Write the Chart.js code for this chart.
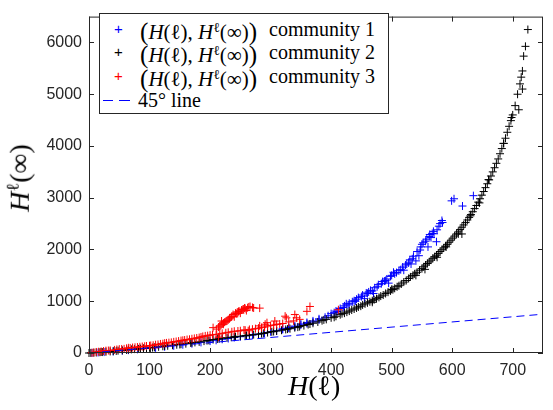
<!DOCTYPE html>
<html>
<head>
<meta charset="utf-8">
<script src="https://cdn.jsdelivr.net/npm/chart.js@4.4.0/dist/chart.umd.min.js"></script>
<style>
  html, body { margin:0; padding:0; background:#fff; }
  #wrap { position:relative; width:553px; height:410px; overflow:hidden; }
  #c { position:absolute; left:0; top:0; }
  .tex { position:absolute; font-family:"Liberation Serif","DejaVu Serif",serif; color:#000; white-space:nowrap; line-height:1; }
  .tex i { font-style:italic; }
  .tex sup { font-size:65%; vertical-align:0; position:relative; top:-0.55em; }
  .big { font-size:120%; position:relative; top:0.04em; }
  #legend { position:absolute; left:99px; top:13px; width:288px; height:99px; border:1px solid #262626; background:#fff; }
  .mk { position:absolute; font-family:"Liberation Sans",sans-serif; font-size:15px; line-height:1; }
  .dash { position:absolute; height:1px; background:#0000ff; }
</style>
</head>
<body>
<div id="wrap">
  <canvas id="c" width="553" height="410"></canvas>
  <div id="legend"></div>
  <div class="tex" id="xtitle" style="left:288px; top:372px; font-size:28px;"><i>H</i>(ℓ)</div>
  <div class="tex" id="ytitle" style="left:-14px; top:164px; font-size:28px; transform:rotate(-90deg); transform-origin:center;"><i>H</i><sup>ℓ</sup>(∞)</div>
</div>
<script>
// ─ Data ──────────────────────────────────────────────────────────────────────
const xTicks = [0, 100, 200, 300, 400, 500, 600, 700];
const yTicks = [0, 1000, 2000, 3000, 4000, 5000, 6000];

const seriesNames = ['community 1', 'community 2', 'community 3'];

// community 1 (blue)
const comm1 = [
  [5,3],[15,10],[25,18],[40,30],[55,45],[65,55],[80,70],[95,85],[110,100],[125,120],
  [140,140],[155,160],[170,180],[185,205],[200,230],[210,245],[220,265],[230,280],[240,300],[250,315],
  [260,330],[270,345],[280,365],[290,385],[300,410],[310,430],[320,455],[330,480],[340,505],[350,540],
  [360,570],[370,600],[380,640],[390,690],[400,760],[408,810],[415,860],[422,910],[430,960],[438,1010],
  [445,1070],[452,1120],[458,1160],[465,1210],[472,1260],[478,1320],[485,1380],[492,1430],[498,1480],[505,1530],
  [512,1590],[518,1660],[525,1720],[530,1800],[536,1870],[542,1960],[548,2050],[552,2130],[558,2200],[563,2290],
  [569,2350],[574,2150],[578,2450],[583,2560],[599,2940],[603,2980],[617,2840],[635,3040],
  [455,1050],[470,1150],[495,1350],[520,1600],[540,1780],[560,2050],[545,1880],[565,2230],[575,2380],
  [410,800],[420,880],[428,930],[435,990],[442,1040],[450,1090],[460,1150],[468,1200],[476,1280],[483,1340],
  [490,1400],[500,1500],[508,1554],[515,1610],[523,1700],[528,1740],[534,1820],[550,2100],[556,2160],[562,2250],
  [570,2303],[580,2500],[584,2522],[440,1000],[462,1180],[488,1390],[503,1560],[532,1720],[547,1990],[567,2310],
  [380,660],[370,620],[360,590],[350,560],[340,520],[330,495],[320,470],[395,720],[405,780],[425,950]
];

// community 2 (black)
const comm2 = [
  [0,0],[3,2],[8,6],[12,10],[18,15],[22,18],[28,25],[35,30],[40,35],[48,45],
  [55,50],[62,60],[70,70],[75,75],[82,80],[90,90],[95,95],[100,100],[108,110],[115,120],
  [122,130],[130,140],[138,150],[145,160],[152,170],[160,180],[168,195],[175,205],[182,215],[190,230],
  [198,245],[205,260],[212,270],[220,285],[228,295],[235,305],[242,315],[250,325],[258,335],[265,345],
  [272,355],[280,365],[288,380],[295,395],[302,410],[310,425],[318,440],[325,455],[332,470],[340,490],
  [348,510],[355,530],[362,550],[370,575],[378,600],[385,625],[392,650],[400,680],[408,710],[415,740],
  [422,770],[430,810],[438,850],[445,890],[452,930],[460,970],[468,1010],[475,1050],[482,1100],[490,1150],
  [498,1200],[505,1250],[512,1300],[520,1370],[528,1440],[535,1500],[542,1560],[550,1630],[556,1700],[562,1760],
  [568,1830],[574,1890],[580,1960],[586,2030],[592,2100],[598,2180],[604,2260],[610,2340],[616,2430],[622,2520],
  [628,2620],[634,2730],[640,2850],[646,2980],[652,3120],[658,3270],[664,3420],[670,3580],[676,3750],[682,3950],
  [688,4150],[694,4380],[700,4600],[704,4780],[708,5000],[712,5200],[714,5330],[716,5450],[718,5736],[721,5925],
  [725,6250],[710,4700],[716,5100],[616,2300],[555,1616],[468,980],[500,1230],[540,1500],[590,2050],[630,2650],
  [660,3350],[685,4050],[698,4550],[575,1850],[610,2300],[645,2900],
  [405,690],[418,760],[426,790],[434,830],[442,870],[449,905],[456,950],[464,990],[471,1030],[479,1075],
  [486,1120],[494,1175],[502,1225],[509,1280],[516,1335],[524,1400],[531,1470],[538,1530],[546,1600],[553,1665],
  [559,1730],[565,1795],[571,1860],[577,1925],[583,1995],[589,2065],[595,2140],[601,2220],[607,2300],[613,2385],
  [619,2475],[625,2570],[631,2675],[637,2790],[643,2915],[649,3050],[655,3195],[661,3345],[667,3500],[673,3665],
  [679,3850],[685,4050],[691,4265],[697,4490],
  [20,20],[45,40],[65,65],[85,85],[105,105],[125,135],[150,165],[170,200],[195,240],[215,275],
  [240,310],[260,340],[285,375],[305,415],[328,462],[345,500],[365,560],[388,640]
];

// community 3 (red)
const comm3 = [
  [5,5],[12,20],[20,30],[28,45],[35,50],[42,60],[50,75],[58,80],[65,100],[72,105],
  [80,115],[88,125],[95,135],[102,145],[110,160],[118,175],[125,190],[132,200],[140,215],[148,230],
  [155,245],[162,260],[170,275],[178,290],[185,310],[192,330],[200,345],[205,490],[210,360],[214,306],
  [220,380],[222,556],[230,400],[240,420],[250,430],[258,440],[263,430],[265,455],[275,470],[285,490],
  [291,556],[295,520],[305,540],[307,618],[315,560],[324,711],[326,680],[340,743],[343,680],[360,805],
  [365,899],[412,836],[294,586],[282,524],
  [211,462],[214,500],[218,540],[219,618],[222,580],[226,610],[230,640],[233,680],[236,710],[238,743],
  [242,770],[245,790],[248,810],[252,830],[255,850],[258,860],[262,875],[266,899],[270,880],[282,867],
  [260,820],[250,770],[240,700],
  [8,10],[16,25],[24,38],[32,48],[46,68],[54,78],[62,90],[68,98],[76,110],[84,120],
  [92,130],[100,140],[106,150],[114,165],[122,180],[128,195],[136,205],[144,222],[152,240],[158,250],
  [166,265],[174,282],[182,298],[188,320],[196,335],[204,352],[216,370],[226,390],[236,410],[246,425],
  [256,445],[270,460],[280,480],[290,500],[300,530],[310,550],[320,570],[330,600],[338,620],[348,650],
  [216,520],[220,560],[224,595],[228,625],[232,660],[235,695],[244,760],[247,800],[254,840],[257,870],
  [264,890],[272,870]
];

// 45° reference line
const lineX = [0, 750];
const lineY = [0, 750];

// ─ Styles ────────────────────────────────────────────────────────────────────
const BLUE  = '#0000ff';
const BLACK = '#000000';
const RED   = '#ff0000';
const AXIS  = '#262626';

const toPts = arr => arr.map(([x, y]) => ({ x, y }));

function scatterSet(label, pts, color, order) {
  return {
    label,
    data: toPts(pts),
    pointStyle: 'cross',
    pointRadius: 4,
    borderColor: color,
    backgroundColor: color,
    borderWidth: 1,
    showLine: false,
    clip: false,
    order,
  };
}

// ─ Box + inward ticks (MATLAB look) ──────────────────────────────────────────
const boxPlugin = {
  id: 'box',
  afterDraw(chart) {
    const { ctx, chartArea: a, scales: { x, y } } = chart;
    ctx.save();
    ctx.strokeStyle = AXIS;
    ctx.lineWidth = 1;
    ctx.strokeRect(a.left + 0.5, a.top + 0.5, a.right - a.left - 1, a.bottom - a.top - 1);
    ctx.beginPath();
    xTicks.forEach(v => {
      const px = Math.round(x.getPixelForValue(v)) + 0.5;
      ctx.moveTo(px, a.bottom); ctx.lineTo(px, a.bottom - 5);
      ctx.moveTo(px, a.top);    ctx.lineTo(px, a.top + 5);
    });
    yTicks.forEach(v => {
      const py = Math.round(y.getPixelForValue(v)) + 0.5;
      ctx.moveTo(a.left, py);  ctx.lineTo(a.left + 5, py);
      ctx.moveTo(a.right, py); ctx.lineTo(a.right - 5, py);
    });
    ctx.stroke();
    ctx.restore();
  }
};

const tickFont = { family: '"Liberation Sans", Arial, sans-serif', size: 16 };

new Chart(document.getElementById('c').getContext('2d'), {
  type: 'scatter',
  data: {
    datasets: [
      scatterSet(seriesNames[0], comm1, BLUE, 3),
      scatterSet(seriesNames[1], comm2, BLACK, 2),
      scatterSet(seriesNames[2], comm3, RED, 1),
      {
        type: 'line',
        label: '45° line',
        data: lineX.map((x, i) => ({ x, y: lineY[i] })),
        borderColor: BLUE,
        borderWidth: 1,
        borderDash: [8, 5],
        pointRadius: 0,
        fill: false,
        order: 0,
      }
    ]
  },
  options: {
    responsive: false,
    animation: false,
    layout: { padding: { left: 0, top: 4, right: 10, bottom: 0 } },
    plugins: { legend: { display: false }, tooltip: { enabled: false } },
    scales: {
      x: {
        type: 'linear', min: 0, max: 750,
        grid: { display: false, drawTicks: false, tickLength: 0 }, border: { display: false },
        ticks: { font: tickFont, color: AXIS, padding: 8, maxRotation: 0, callback: v => String(v) },
        afterBuildTicks(s) { s.ticks = xTicks.map(v => ({ value: v })); },
        afterFit(s) { s.height = 57; }
      },
      y: {
        type: 'linear', min: 0, max: 6500,
        grid: { display: false, drawTicks: false, tickLength: 0 }, border: { display: false },
        ticks: { font: tickFont, color: AXIS, padding: 7, callback: v => String(v) },
        afterBuildTicks(s) { s.ticks = yTicks.map(v => ({ value: v })); },
        afterFit(s) { s.width = 89; }
      }
    }
  },
  plugins: [boxPlugin]
});

// ─ Legend (HTML, LaTeX-ish) ──────────────────────────────────────────────────
const legend = document.getElementById('legend');
const rowTops = [15, 38, 62, 86];
const mathHtml = '<span class="big">(</span><i>H</i>(ℓ), <i>H</i><sup>ℓ</sup>(∞)<span class="big">)</span>';
[BLUE, BLACK, RED].forEach((col, i) => {
  legend.insertAdjacentHTML('beforeend',
    `<div class="mk" style="left:14px; top:${rowTops[i] - 8}px; color:${col};">+</div>` +
    `<div class="tex" style="left:40px; top:${rowTops[i] - 11}px; font-size:21px;">${mathHtml}</div>` +
    `<div class="tex" style="left:169px; top:${rowTops[i] - 10}px; font-size:20px;">${seriesNames[i]}</div>`);
});
legend.insertAdjacentHTML('beforeend',
  `<div class="dash" style="left:3px; top:${rowTops[3]}px; width:10px;"></div>` +
  `<div class="dash" style="left:19px; top:${rowTops[3]}px; width:11px;"></div>` +
  `<div class="tex" style="left:38px; top:${rowTops[3] - 10}px; font-size:20px;">45° line</div>`);
</script>
</body>
</html>
